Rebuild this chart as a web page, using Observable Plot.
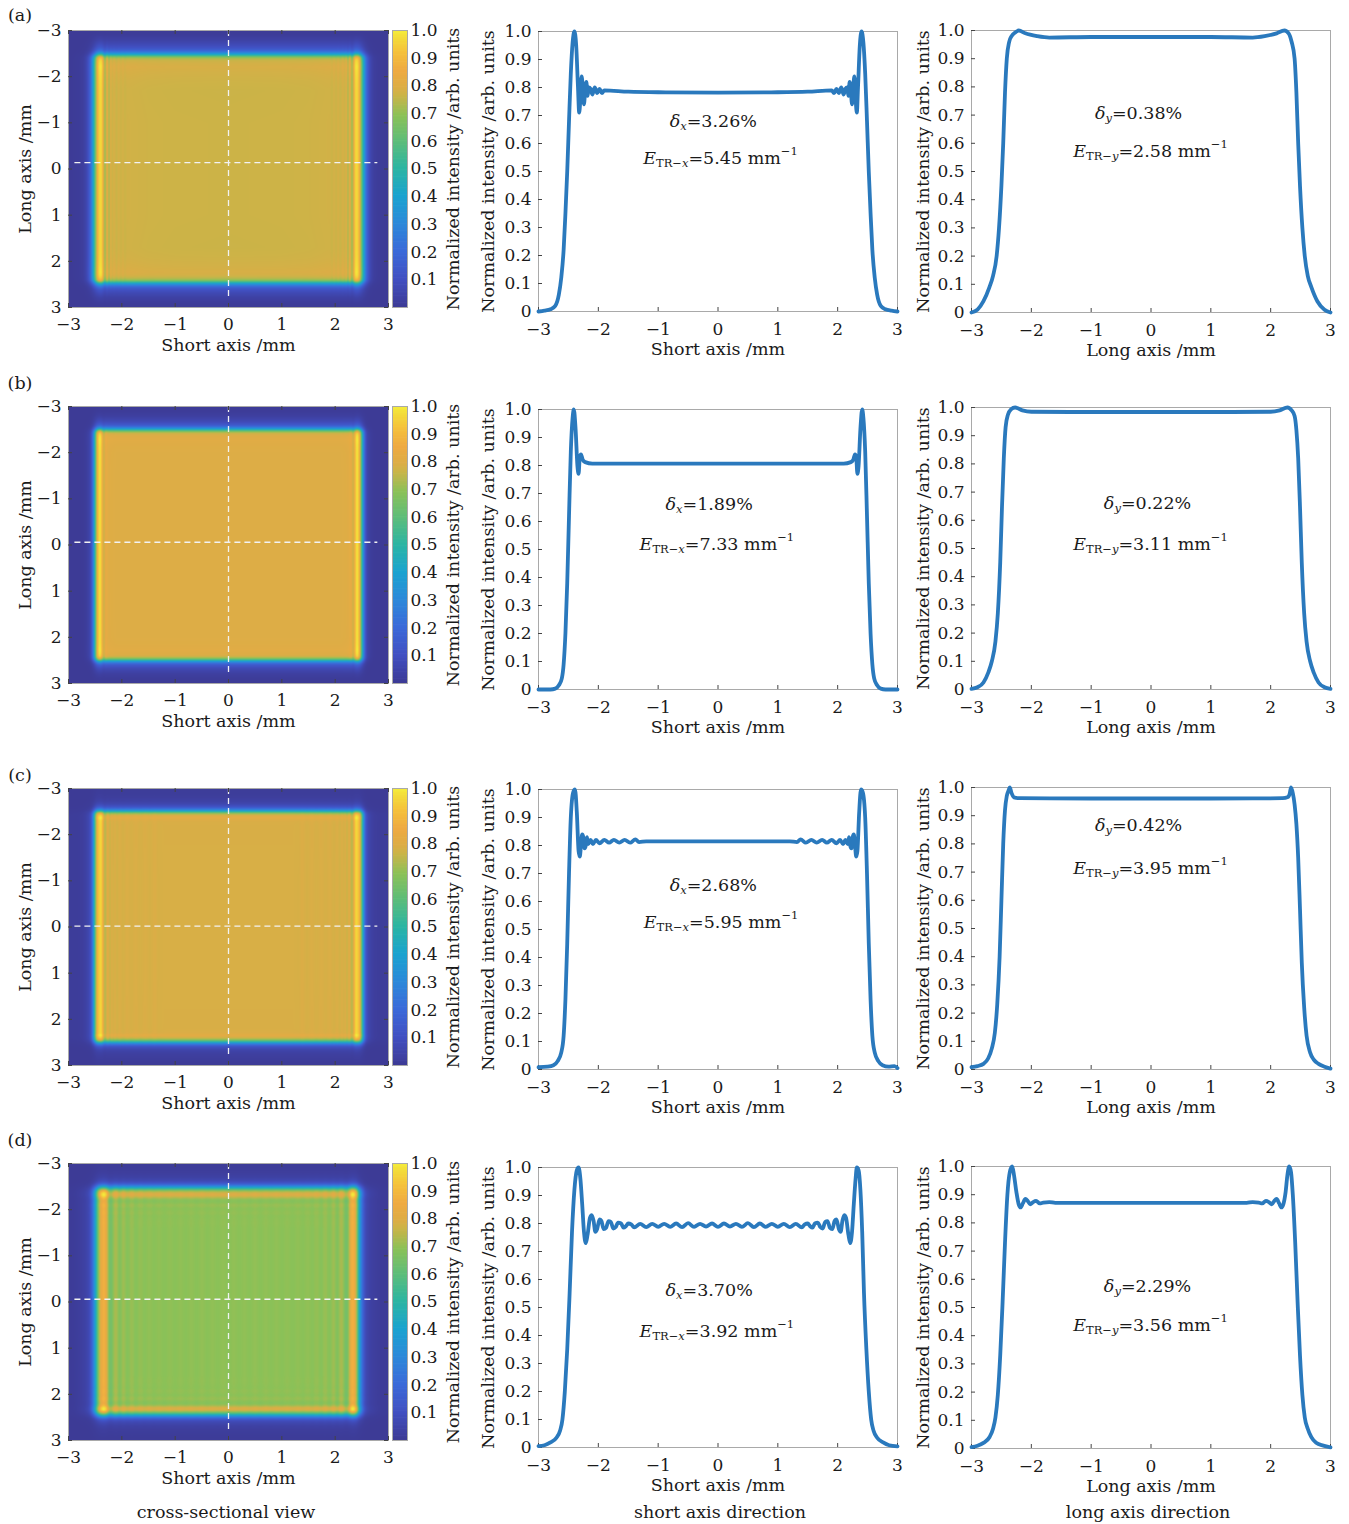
<!DOCTYPE html>
<html><head><meta charset="utf-8">
<script src="https://cdn.jsdelivr.net/npm/d3@7"></script>
<script src="https://cdn.jsdelivr.net/npm/@observablehq/plot@0.6"></script>
<style>
body{margin:0;background:#fff;}
#root{position:relative;width:1349px;height:1524px;font-family:"DejaVu Serif",serif;color:#1a1a1a;overflow:hidden;}
#root svg{position:absolute;overflow:visible;}
.lab{position:absolute;font-size:17.5px;white-space:nowrap;transform:translate(-50%,-50%);}
</style></head><body><div id="root"></div>
<script>
// ---------- data ----------
const rowLabels = ["(a)", "(b)", "(c)", "(d)"];
const xTicks = [-3, -2, -1, 0, 1, 2, 3];
const yTicks = [0, 0.1, 0.2, 0.3, 0.4, 0.5, 0.6, 0.7, 0.8, 0.9, 1.0];
const cbTicks = [0.1, 0.2, 0.3, 0.4, 0.5, 0.6, 0.7, 0.8, 0.9, 1.0];
const deltaX = ["3.26%", "1.89%", "2.68%", "3.70%"];
const etrX = ["5.45", "7.33", "5.95", "3.92"];
const deltaY = ["0.38%", "0.22%", "0.42%", "2.29%"];
const etrY = ["2.58", "3.11", "3.95", "3.56"];
const captions = ["cross-sectional view", "short axis direction", "long axis direction"];

// short-axis (x) profiles, [position mm, normalized intensity]
const shortA = [[-3,0],[-2.9,0.003],[-2.8,0.008],[-2.72,0.02],[-2.66,0.06],[-2.62,0.12],[-2.58,0.22],[-2.55,0.35],[-2.52,0.5],[-2.49,0.68],[-2.46,0.85],[-2.43,0.96],[-2.4,1.0],[-2.37,0.95],[-2.34,0.8],[-2.32,0.71],[-2.3,0.76],[-2.28,0.84],[-2.26,0.8],[-2.24,0.74],[-2.22,0.79],[-2.2,0.82],[-2.18,0.77],[-2.16,0.8],[-2.13,0.795],[-2.1,0.775],[-2.06,0.8],[-2.02,0.78],[-1.98,0.795],[-1.94,0.78],[-1.9,0.79],[-1.5,0.785],[-1.0,0.783],[0,0.782],[1.0,0.783],[1.5,0.785],[1.9,0.79],[1.94,0.78],[1.98,0.795],[2.02,0.78],[2.06,0.8],[2.1,0.775],[2.13,0.795],[2.16,0.8],[2.18,0.77],[2.2,0.82],[2.22,0.79],[2.24,0.74],[2.26,0.8],[2.28,0.84],[2.3,0.76],[2.32,0.71],[2.34,0.8],[2.37,0.95],[2.4,1.0],[2.43,0.96],[2.46,0.85],[2.49,0.68],[2.52,0.5],[2.55,0.35],[2.58,0.22],[2.62,0.12],[2.66,0.06],[2.72,0.02],[2.8,0.008],[2.9,0.003],[3,0]];
const shortB = [[-3,0],[-2.8,0],[-2.72,0.003],[-2.66,0.015],[-2.61,0.04],[-2.58,0.09],[-2.55,0.2],[-2.52,0.38],[-2.49,0.62],[-2.46,0.85],[-2.43,0.97],[-2.41,1.0],[-2.38,0.93],[-2.35,0.8],[-2.33,0.77],[-2.31,0.83],[-2.29,0.84],[-2.26,0.82],[-2.22,0.812],[-2.1,0.807],[-1.5,0.807],[0,0.807],[1.5,0.807],[2.1,0.807],[2.22,0.812],[2.26,0.82],[2.29,0.84],[2.31,0.83],[2.33,0.77],[2.35,0.8],[2.38,0.93],[2.41,1.0],[2.43,0.97],[2.46,0.85],[2.49,0.62],[2.52,0.38],[2.55,0.2],[2.58,0.09],[2.61,0.04],[2.66,0.015],[2.72,0.003],[2.8,0],[3,0]];
const shortC = [[-3,0.008],[-2.85,0.01],[-2.75,0.015],[-2.68,0.03],[-2.62,0.06],[-2.58,0.12],[-2.55,0.25],[-2.52,0.45],[-2.49,0.7],[-2.46,0.9],[-2.42,0.99],[-2.39,1.0],[-2.36,0.92],[-2.33,0.78],[-2.31,0.76],[-2.29,0.8],[-2.27,0.84],[-2.25,0.83],[-2.23,0.79],[-2.21,0.8],[-2.19,0.83],[-2.17,0.805],[-2.13,0.82],[-2.09,0.805],[-2.04,0.82],[-1.98,0.808],[-1.9,0.82],[-1.82,0.81],[-1.74,0.82],[-1.65,0.81],[-1.56,0.82],[-1.47,0.81],[-1.38,0.822],[-1.32,0.812],[-1.2,0.815],[0,0.815],[1.2,0.815],[1.32,0.812],[1.38,0.822],[1.47,0.81],[1.56,0.82],[1.65,0.81],[1.74,0.82],[1.82,0.81],[1.9,0.82],[1.98,0.808],[2.04,0.82],[2.09,0.805],[2.13,0.82],[2.17,0.805],[2.19,0.83],[2.21,0.8],[2.23,0.79],[2.25,0.83],[2.27,0.84],[2.29,0.8],[2.31,0.76],[2.33,0.78],[2.36,0.92],[2.39,1.0],[2.42,0.99],[2.46,0.9],[2.49,0.7],[2.52,0.45],[2.55,0.25],[2.58,0.12],[2.62,0.06],[2.68,0.03],[2.75,0.015],[2.85,0.01],[2.95,0.012],[3,0.005]];
const shortD = [[-3,0.005],[-2.9,0.008],[-2.8,0.018],[-2.7,0.035],[-2.64,0.06],[-2.6,0.1],[-2.56,0.2],[-2.52,0.35],[-2.48,0.55],[-2.44,0.77],[-2.4,0.92],[-2.36,0.99],[-2.33,1.0],[-2.3,0.96],[-2.27,0.87],[-2.24,0.77],[-2.21,0.73],[-2.18,0.76],[-2.14,0.82],[-2.11,0.83],[-2.08,0.81],[-2.05,0.77],[-2.02,0.78],[-1.98,0.815],[-1.95,0.81],[-1.91,0.78],[-1.87,0.785],[-1.83,0.808],[-1.79,0.805],[-1.75,0.782],[-1.71,0.787],[-1.67,0.803],[-1.62,0.8],[-1.58,0.785],[-1.54,0.79],[-1.5,0.8],[-1.45,0.797],[-1.4,0.786],[-1.3,0.799],[-1.2,0.787],[-1.1,0.799],[-1.0,0.788],[-0.9,0.799],[-0.8,0.788],[-0.7,0.8],[-0.6,0.787],[-0.5,0.801],[-0.4,0.788],[-0.3,0.799],[-0.2,0.789],[-0.1,0.8],[0,0.788],[0.1,0.8],[0.2,0.789],[0.3,0.799],[0.4,0.788],[0.5,0.801],[0.6,0.787],[0.7,0.8],[0.8,0.788],[0.9,0.799],[1.0,0.788],[1.1,0.799],[1.2,0.787],[1.3,0.799],[1.4,0.786],[1.45,0.797],[1.5,0.8],[1.54,0.79],[1.58,0.785],[1.62,0.8],[1.67,0.803],[1.71,0.787],[1.75,0.782],[1.79,0.805],[1.83,0.808],[1.87,0.785],[1.91,0.78],[1.95,0.81],[1.98,0.815],[2.02,0.78],[2.05,0.77],[2.08,0.81],[2.11,0.83],[2.14,0.82],[2.18,0.76],[2.21,0.73],[2.24,0.77],[2.27,0.87],[2.3,0.96],[2.32,1.0],[2.35,0.99],[2.38,0.92],[2.41,0.77],[2.44,0.55],[2.48,0.35],[2.52,0.2],[2.56,0.1],[2.6,0.06],[2.66,0.035],[2.76,0.018],[2.86,0.008],[3,0.004]];

// long-axis (y) profiles
const longA = [[-3,0],[-2.9,0.01],[-2.8,0.04],[-2.7,0.09],[-2.64,0.13],[-2.58,0.2],[-2.54,0.3],[-2.5,0.45],[-2.47,0.6],[-2.44,0.78],[-2.41,0.9],[-2.37,0.96],[-2.33,0.98],[-2.27,0.993],[-2.21,1.0],[-2.1,0.99],[-1.9,0.98],[-1.7,0.975],[-1.0,0.977],[0,0.977],[1.0,0.977],[1.7,0.975],[1.9,0.98],[2.1,0.99],[2.23,1.0],[2.3,0.99],[2.35,0.96],[2.4,0.9],[2.43,0.78],[2.46,0.6],[2.49,0.45],[2.53,0.3],[2.57,0.2],[2.62,0.13],[2.68,0.09],[2.78,0.04],[2.9,0.01],[3,0]];
const longB = [[-3,0.002],[-2.9,0.008],[-2.8,0.025],[-2.72,0.06],[-2.66,0.1],[-2.6,0.17],[-2.56,0.27],[-2.52,0.45],[-2.49,0.65],[-2.46,0.82],[-2.43,0.93],[-2.39,0.975],[-2.34,0.993],[-2.27,1.0],[-2.15,0.99],[-2.0,0.985],[-1,0.984],[0,0.984],[1,0.984],[2.0,0.985],[2.15,0.99],[2.28,1.0],[2.35,0.99],[2.4,0.97],[2.43,0.92],[2.46,0.82],[2.49,0.65],[2.52,0.45],[2.56,0.27],[2.6,0.17],[2.66,0.1],[2.72,0.06],[2.8,0.025],[2.9,0.008],[3,0.002]];
const longC = [[-3,0.008],[-2.9,0.012],[-2.8,0.02],[-2.72,0.04],[-2.66,0.075],[-2.61,0.13],[-2.57,0.23],[-2.53,0.4],[-2.5,0.6],[-2.47,0.8],[-2.44,0.92],[-2.41,0.97],[-2.38,0.99],[-2.36,1.0],[-2.33,0.98],[-2.29,0.965],[-2.2,0.962],[-1,0.961],[0,0.961],[1,0.961],[2.2,0.962],[2.29,0.966],[2.32,0.98],[2.34,1.0],[2.37,0.98],[2.4,0.94],[2.43,0.87],[2.46,0.75],[2.49,0.57],[2.52,0.38],[2.56,0.22],[2.6,0.12],[2.66,0.06],[2.72,0.035],[2.8,0.02],[2.9,0.01],[3,0.003]];
const longD = [[-3,0.005],[-2.9,0.01],[-2.8,0.02],[-2.7,0.04],[-2.64,0.07],[-2.6,0.11],[-2.56,0.19],[-2.52,0.33],[-2.48,0.52],[-2.44,0.73],[-2.4,0.9],[-2.36,0.98],[-2.32,1.0],[-2.29,0.97],[-2.25,0.91],[-2.21,0.865],[-2.18,0.855],[-2.14,0.87],[-2.1,0.885],[-2.06,0.878],[-2.02,0.866],[-1.97,0.874],[-1.92,0.878],[-1.86,0.869],[-1.8,0.872],[-1.7,0.874],[-1.6,0.871],[-1,0.871],[0,0.871],[1,0.871],[1.6,0.871],[1.7,0.874],[1.8,0.872],[1.86,0.869],[1.92,0.878],[1.97,0.874],[2.02,0.866],[2.06,0.878],[2.1,0.885],[2.14,0.87],[2.18,0.855],[2.21,0.865],[2.25,0.91],[2.28,0.97],[2.31,1.0],[2.34,0.98],[2.37,0.9],[2.41,0.73],[2.45,0.52],[2.49,0.33],[2.53,0.19],[2.57,0.11],[2.62,0.07],[2.68,0.04],[2.76,0.02],[2.88,0.01],[3,0.004]];

const shortProfiles = [shortA, shortB, shortC, shortD];
const longProfiles = [longA, longB, longC, longD];

// parula-like colormap (stops and colours)
const cmapStops = [0, 0.1, 0.2, 0.3, 0.4, 0.5, 0.6, 0.69, 0.73, 0.765, 0.79, 0.85, 0.92, 0.97, 1.0];
const cmapColors = ["#3d3b96","#4150c2","#3b6ad9","#2c89d9","#1aa3cf","#2db5a2","#5fbd78","#8cc157","#b1b94f","#cdb347","#dcad46","#eeaa42","#f5c23b","#f3dc3a","#f5ef3a"];

// ---------- layout ----------
const heatTop = [30, 406, 788, 1163];
const shortTop = [31, 409, 789, 1167];
const longTop = [30, 407, 787, 1166];
const labelY = [15, 383, 775, 1140];
const cutY = [-0.14, -0.06, -0.02, -0.06];
const annShort = [[-0.07,0.677,0.05,0.547],[-0.14,0.662,-0.01,0.519],[-0.07,0.656,0.06,0.524],[-0.14,0.559,-0.01,0.413]];
const annLong = [[-0.2,0.706,0,0.570],[-0.05,0.658,0,0.515],[-0.2,0.864,0,0.711],[-0.05,0.573,0,0.436]];

const FONT = "DejaVu Serif";
const BLUE = "#2a79bd";
const FRAME = "#a9a9a9";
const TICK = "#444";
const root = document.getElementById("root");

const fmtMinus = d => d < 0 ? "\u2212" + Math.abs(d) : String(d);
const fmtY = d => d === 0 ? "0" : d.toFixed(1);
const colorScale = {type: "linear", domain: cmapStops, range: cmapColors, interpolate: "rgb", clamp: true};
const style = {fontFamily: FONT, fontSize: "17px", color: "#1a1a1a", background: "transparent", overflow: "visible"};

function interp(pts, x) {
  if (x <= pts[0][0]) return pts[0][1];
  for (let i = 1; i < pts.length; i++) {
    if (x <= pts[i][0]) {
      const [x0, y0] = pts[i - 1], [x1, y1] = pts[i];
      return y0 + (y1 - y0) * (x - x0) / (x1 - x0);
    }
  }
  return pts[pts.length - 1][1];
}

function place(el, left, top) {
  el.style.left = left + "px";
  el.style.top = top + "px";
  root.appendChild(el);
  return el;
}

function richText(svg, px, py, segs) {
  const t = d3.select(svg).append("text")
    .attr("x", px).attr("y", py)
    .attr("text-anchor", "middle").attr("dominant-baseline", "central")
    .attr("font-family", FONT).attr("font-size", 17.5).attr("fill", "#1a1a1a");
  let shift = 0;
  for (const s of segs) {
    const target = s.sub ? 5 : s.sup ? -7 : 0;
    const ts = t.append("tspan").text(s.t).attr("dy", target - shift);
    shift = target;
    if (s.sub || s.sup) ts.attr("font-size", 11.5);
    if (s.it) ts.attr("font-style", "italic");
  }
}

function vlabel(text, anchor, dx) {
  return Plot.text([text], {text: d => d, frameAnchor: anchor, dx, rotate: -90, textAnchor: "middle", lineAnchor: "middle", fontSize: 17.5});
}

function heatmap(r) {
  const W = 320, H = 277;
  const sx = shortProfiles[r], sy = longProfiles[r];
  const fx = Array.from({length: W}, (_, i) => interp(sx, -3 + (i + 0.5) / W * 6));
  const fy = Array.from({length: H}, (_, j) => interp(sy, -3 + (j + 0.5) / H * 6));
  const vals = new Array(W * H);
  for (let j = 0; j < H; j++) for (let i = 0; i < W; i++) vals[j * W + i] = fx[i] * fy[j];
  const plot = Plot.plot({
    width: 68 + W + 2, height: 30 + H + 60,
    marginLeft: 68, marginRight: 2, marginTop: 30, marginBottom: 60,
    style,
    x: {domain: [-3, 3]},
    y: {domain: [-3, 3], reverse: true},
    color: colorScale,
    marks: [
      Plot.raster(vals, {width: W, height: H, x1: -3, x2: 3, y1: -3, y2: 3, fill: d => d}),
      Plot.ruleX([0], {y1: -3, y2: 2.8, stroke: "#f2f2f2", strokeWidth: 1.3, strokeDasharray: "6,4"}),
      Plot.ruleY([cutY[r]], {x1: -2.88, x2: 2.8, stroke: "#f2f2f2", strokeWidth: 1.3, strokeDasharray: "6,4"}),
      Plot.frame({stroke: FRAME}),
      Plot.tickX(xTicks, {x: d => d, insetTop: H - 4, stroke: TICK}),
      Plot.tickX(xTicks, {x: d => d, insetBottom: H - 4, stroke: TICK}),
      Plot.tickY(xTicks, {y: d => d, insetRight: W - 4, stroke: TICK}),
      Plot.tickY(xTicks, {y: d => d, insetLeft: W - 4, stroke: TICK}),
      Plot.axisX({ticks: xTicks, tickSize: 0, tickPadding: 10, tickFormat: fmtMinus, label: null}),
      Plot.axisY({ticks: xTicks, tickSize: 0, tickPadding: 7, tickFormat: fmtMinus, label: null}),
      Plot.text(["Short axis /mm"], {text: d => d, frameAnchor: "bottom", dy: 38, lineAnchor: "middle", fontSize: 17.5}),
      vlabel("Long axis /mm", "left", -43)
    ]
  });
  place(plot, 0, heatTop[r] - 30);

  const cbVals = d3.range(0, 1, 0.005);
  const cb = Plot.plot({
    width: 80, height: 30 + H + 10,
    marginLeft: 0, marginRight: 65, marginTop: 30, marginBottom: 10,
    style,
    x: {domain: [0, 1], axis: null},
    y: {domain: [0, 1]},
    color: colorScale,
    marks: [
      Plot.rect(cbVals, {x1: 0, x2: 1, y1: d => d, y2: d => Math.min(1, d + 0.0075), fill: d => d}),
      Plot.frame({stroke: FRAME}),
      Plot.axisY({anchor: "right", ticks: cbTicks, tickSize: 0, tickPadding: 3, tickFormat: d => d.toFixed(1), label: null}),
      vlabel("Normalized intensity /arb. units", "right", 46)
    ]
  });
  place(cb, 392, heatTop[r] - 30);
}

function profile(r, kind) {
  const isShort = kind === "short";
  const data = isShort ? shortProfiles[r] : longProfiles[r];
  const H = isShort ? 280 : 282;
  const W = 359;
  const mL = isShort ? 68 : 66;
  const plot = Plot.plot({
    width: mL + W + 10, height: 30 + H + 60,
    marginLeft: mL, marginRight: 10, marginTop: 30, marginBottom: 60,
    style,
    x: {domain: [-3, 3]},
    y: {domain: [0, 1]},
    marks: [
      Plot.frame({stroke: FRAME}),
      Plot.tickX(xTicks, {x: d => d, insetTop: H - 4, stroke: TICK}),
      Plot.tickY(yTicks, {y: d => d, insetRight: W - 4, stroke: TICK}),
      Plot.line(data, {x: d => d[0], y: d => d[1], stroke: BLUE, strokeWidth: 3.8, curve: "monotone-x"}),
      Plot.axisX({ticks: xTicks, tickSize: 0, tickPadding: 11, tickFormat: fmtMinus, label: null}),
      Plot.axisY({ticks: yTicks, tickSize: 0, tickPadding: 7, tickFormat: fmtY, label: null}),
      Plot.text([isShort ? "Short axis /mm" : "Long axis /mm"], {text: d => d, frameAnchor: "bottom", dy: 38, lineAnchor: "middle", fontSize: 17.5}),
      vlabel("Normalized intensity /arb. units", "left", isShort ? -50 : -48)
    ]
  });
  const sx = plot.scale("x"), sy = plot.scale("y");
  const a = isShort ? annShort[r] : annLong[r];
  const v = isShort ? "x" : "y";
  richText(plot, sx.apply(a[0]), sy.apply(a[1]), [
    {t: "\u03b4", it: true}, {t: v, it: true, sub: true}, {t: "=" + (isShort ? deltaX[r] : deltaY[r])}
  ]);
  richText(plot, sx.apply(a[2]), sy.apply(a[3]), [
    {t: "E", it: true}, {t: "TR\u2212", sub: true}, {t: v, it: true, sub: true},
    {t: "=" + (isShort ? etrX[r] : etrY[r]) + " mm"}, {t: "\u22121", sup: true}
  ]);
  if (isShort) place(plot, 538 - mL, shortTop[r] - 30);
  else place(plot, 971 - mL, longTop[r] - 30);
}

for (let r = 0; r < 4; r++) {
  heatmap(r);
  profile(r, "short");
  profile(r, "long");
  const l = document.createElement("div");
  l.className = "lab";
  l.textContent = rowLabels[r];
  l.style.left = "20px"; l.style.top = labelY[r] + "px";
  root.appendChild(l);
}
const capX = [226, 720, 1148];
captions.forEach((c, i) => {
  const d = document.createElement("div");
  d.className = "lab";
  d.textContent = c;
  d.style.left = capX[i] + "px"; d.style.top = "1512px";
  root.appendChild(d);
});
</script></body></html>
